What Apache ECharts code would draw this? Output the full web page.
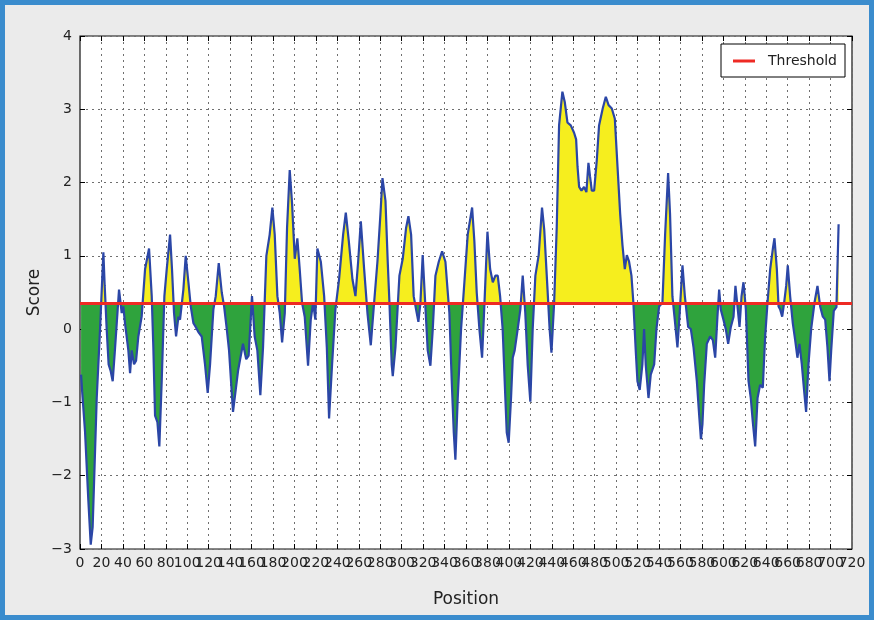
<!DOCTYPE html>
<html>
<head>
<meta charset="utf-8">
<script src="https://cdn.jsdelivr.net/npm/echarts@6/dist/echarts.min.js"></script>
<style>
  html, body { margin: 0; padding: 0; }
  .wrap { position: relative; width: 874px; height: 620px; background: #ebebeb; }
  .chart { position: absolute; left: 0; top: 0; width: 874px; height: 620px; }
  .frame { position: absolute; left: 0; top: 0; width: 874px; height: 620px; box-sizing: border-box;
           border: 5px solid #3a8ccd; pointer-events: none; }
</style>
</head>
<body>
<div class="wrap">
  <div class="chart" id="chart"></div>
  <div class="frame"></div>
</div>
<script>
  // values (position along the sequence, score)
  const positions = [
    1, 2, 4.7, 7.8, 10, 11.8, 15.6, 18.7, 21.8, 23, 24.9, 26.7, 28.6, 30.5, 32.5, 36.4, 38.9, 40.4, 42, 45.1,
    46.7, 48.2, 50.4, 52.3, 54.4, 57.5, 60.7, 64.4, 66.9, 68.4, 70, 72.2, 74, 76.2, 78.7, 80.9, 84, 85.8, 87.7, 89.6,
    91.8, 93.3, 96.4, 98.6, 101.1, 103.3, 105.8, 107.9, 110.4, 113.5, 116.6, 119.1, 121.3, 124.4, 126.6, 129.4, 132.2, 134.4, 136.9, 139,
    142.7, 147.4, 152, 155, 157.3, 160.4, 162.9, 165.4, 168.2, 170.7, 173.8, 176.9, 179.4, 181.6, 184.1, 186.3, 188.5, 191, 193.1, 195.6,
    197.8, 200.3, 202.7, 204.9, 207.1, 209.6, 212.7, 215.2, 217.4, 219.5, 221.4, 224.6, 227.7, 230.2, 232.3, 235.1, 238.2, 241.6, 245.4, 247.9,
    250.7, 254.1, 256.9, 259.4, 261.9, 265, 268.1, 271.2, 274.3, 277.4, 280.2, 282.1, 284.9, 287, 288.6, 290.7, 291.7, 294.2, 297.9, 301,
    304.1, 306.3, 308.8, 311.2, 313.4, 315.6, 317.5, 319.6, 322.1, 324.3, 326.8, 329, 331.5, 334.6, 337.7, 340.8, 343, 344.5, 346.7, 348.6,
    350.1, 352.3, 355.4, 358.5, 361.6, 365.7, 367.8, 370, 372.5, 375, 377.5, 380, 382.5, 385, 387.4, 389.6, 391.8, 394.2, 396.7, 398,
    399.8, 402, 403.6, 405.4, 408.2, 410.7, 412.9, 415.3, 417.5, 420, 422.2, 424.7, 427.8, 430.9, 433, 436, 438, 439.7, 442.2, 444.6,
    446.8, 449.9, 452.1, 454.6, 457.7, 460.8, 462.7, 464, 465.5, 467.7, 470.1, 472.3, 474.2, 475.7, 477.3, 479.5, 482, 484.1, 487.5, 490.4,
    492.9, 496, 498.8, 501.3, 503.8, 505.9, 508.1, 510, 512.1, 514.3, 516.1, 518.3, 519.9, 522, 524.5, 526.1, 527.6, 530.2, 532.3, 535.5,
    537.6, 540.1, 543.2, 545.7, 548.5, 550.3, 552.5, 554.7, 557.2, 559.3, 561.9, 564.1, 567.2, 569.7, 572.2, 575.3, 577.5, 579.1, 580.5, 582.1,
    584.6, 587.7, 590.2, 592.4, 594.5, 596.1, 597.6, 600.1, 602.3, 604.5, 607, 609.5, 611.3, 613.2, 615.1, 617, 618.8, 621, 623.5, 625.6,
    627.5, 629.7, 631.9, 634.3, 636.8, 639, 641.2, 643.7, 646.2, 647.7, 649.9, 651.5, 653, 654.9, 656.7, 658.6, 660.1, 662.3, 664.8, 667,
    669.1, 671, 673.2, 675.4, 677.2, 679.4, 681.9, 685, 687.8, 690.3, 692.8, 695, 697.1, 699, 700.6, 703, 705.5, 707.5
  ];
  const scores = [
    -0.62, -0.85, -1.4, -2.34, -2.94, -2.7, -0.94, 0, 1.05, 0.6, 0, -0.48, -0.57, -0.71, -0.3, 0.54, 0.22, 0.31, 0.08, -0.29,
    -0.6, -0.29, -0.48, -0.43, -0.1, 0.17, 0.82, 1.1, 0.45, -0.25, -1.18, -1.27, -1.6, -0.71, 0.45, 0.82, 1.29, 0.82, 0.22, -0.1,
    0.17, 0.13, 0.54, 1.0, 0.64, 0.31, 0.08, 0.03, -0.04, -0.1, -0.48, -0.87, -0.48, 0.27, 0.45, 0.9, 0.5, 0.31, 0, -0.29,
    -1.13, -0.57, -0.2, -0.41, -0.36, 0.45, -0.1, -0.29, -0.9, -0.25, 1.0, 1.29, 1.66, 1.29, 0.45, 0.22, -0.18, 0.22, 1.38, 2.17,
    1.71, 0.96, 1.24, 0.82, 0.36, 0.17, -0.5, 0.13, 0.36, 0.13, 1.1, 0.92, 0.45, -0.25, -1.22, -0.48, 0.27, 0.68, 1.29, 1.59,
    1.2, 0.68, 0.45, 0.92, 1.47, 0.82, 0.22, -0.22, 0.36, 0.92, 1.57, 2.06, 1.75, 0.92, 0.36, -0.48, -0.64, -0.25, 0.73, 0.96,
    1.38, 1.54, 1.29, 0.45, 0.27, 0.1, 0.36, 1.01, 0.31, -0.29, -0.5, 0, 0.73, 0.92, 1.06, 0.92, 0.5, 0.22, -0.71, -1.41,
    -1.78, -0.94, 0, 0.64, 1.29, 1.66, 1.2, 0.5, 0, -0.39, 0.45, 1.33, 0.82, 0.64, 0.73, 0.73, 0.45, 0, -0.94, -1.41,
    -1.55, -0.94, -0.39, -0.29, 0, 0.27, 0.73, 0.22, -0.48, -0.99, 0, 0.73, 1.01, 1.66, 1.35, 0.55, 0, -0.32, 0.36, 1.38,
    2.78, 3.24, 3.1, 2.82, 2.78, 2.68, 2.59, 2.22, 1.94, 1.89, 1.94, 1.87, 2.27, 2.08, 1.89, 1.89, 2.31, 2.78, 3.01, 3.17,
    3.06, 3.01, 2.87, 2.22, 1.57, 1.15, 0.82, 1.01, 0.92, 0.73, 0.36, -0.29, -0.71, -0.83, -0.48, 0, -0.48, -0.94, -0.62, -0.48,
    0, 0.31, 0.36, 1.29, 2.13, 1.57, 0.45, 0.13, -0.25, 0.22, 0.87, 0.45, 0.03, 0, -0.25, -0.71, -1.18, -1.5, -1.3, -0.76,
    -0.2, -0.1, -0.15, -0.39, 0.17, 0.54, 0.27, 0.13, 0, -0.2, 0.03, 0.17, 0.59, 0.31, 0.03, 0.45, 0.64, 0.27, -0.71, -0.94,
    -1.27, -1.6, -0.94, -0.76, -0.8, -0.1, 0.36, 0.82, 1.1, 1.24, 0.82, 0.31, 0.27, 0.17, 0.36, 0.59, 0.87, 0.45, 0.08, -0.15,
    -0.39, -0.2, -0.48, -0.85, -1.13, -0.48, 0, 0.36, 0.59, 0.31, 0.17, 0.13, -0.25, -0.71, -0.29, 0.25, 0.3, 1.43
  ];
  const threshold = 0.35;
  const xRange = [0, 720];
  const yRange = [-3, 4];

  const chart = echarts.init(document.getElementById('chart'));
  const scoreData = positions.map((p, i) => [p, scores[i]]);
  const font = 'DejaVu Sans';
  const labelFont = { fontFamily: font, fontSize: 14, color: '#222' };
  const gridLine = () => ({ show: true, lineStyle: { color: '#6f6f6f', type: [2, 4], width: 1 } });
  const ticksIn = () => ({ show: true, inside: true, length: 5, lineStyle: { color: '#000' } });

  const option = {
    animation: false,
    backgroundColor: 'transparent',
    grid: {
      left: 80, right: 22, top: 36, bottom: 71,
      show: true, backgroundColor: '#fff', borderColor: '#111', borderWidth: 1.2
    },
    legend: {
      data: [{ name: 'Threshold', icon: 'rect' }],
      right: 29, top: 44,
      itemWidth: 22, itemHeight: 3,
      padding: [10, 8, 9, 12],
      backgroundColor: '#fff', borderColor: '#000', borderWidth: 1, borderRadius: 0,
      textStyle: { fontFamily: font, fontSize: 14, color: '#222', padding: [0, 0, 0, 8] }
    },
    visualMap: {
      show: false, type: 'piecewise', seriesIndex: 0, dimension: 1,
      pieces: [
        { gte: -100, lte: threshold, color: '#2fa33d' },
        { gt: threshold, lte: 100, color: '#f6ee1e' }
      ]
    },
    xAxis: [
      {
        type: 'value', min: xRange[0], max: xRange[1], interval: 20,
        name: 'Position', nameLocation: 'middle', nameGap: 42,
        nameTextStyle: { fontFamily: font, fontSize: 17, color: '#222' },
        axisLine: { show: false, onZero: false },
        axisTick: ticksIn(),
        axisLabel: Object.assign({ margin: 7, showMaxLabel: false }, labelFont),
        splitLine: gridLine()
      },
      {
        type: 'value', position: 'top', min: xRange[0], max: xRange[1], interval: 20,
        axisLine: { show: false, onZero: false }, axisTick: ticksIn(),
        axisLabel: { show: false }, splitLine: { show: false }
      },
      {
        // carries only the last label (720), which the main axis would drop as overlapping
        type: 'value', position: 'bottom', min: xRange[0], max: xRange[1], interval: 20,
        axisLine: { show: false, onZero: false }, axisTick: { show: false },
        axisLabel: Object.assign({
          margin: 7, showMaxLabel: true,
          formatter: v => (v === xRange[1] ? String(v) : '')
        }, labelFont),
        splitLine: { show: false }
      }
    ],
    yAxis: [
      {
        type: 'value', min: yRange[0], max: yRange[1], interval: 1,
        name: 'Score', nameLocation: 'middle', nameGap: 37, nameMoveOverlap: false,
        nameTextStyle: { fontFamily: font, fontSize: 17, color: '#222' },
        axisLine: { show: false, onZero: false },
        axisTick: ticksIn(),
        axisLabel: Object.assign({
          margin: 8,
          formatter: v => String(v).replace('-', '\u2212')
        }, labelFont),
        splitLine: gridLine()
      },
      {
        type: 'value', position: 'right', min: yRange[0], max: yRange[1], interval: 1,
        axisLine: { show: false, onZero: false }, axisTick: ticksIn(),
        axisLabel: { show: false }, splitLine: { show: false }
      }
    ],
    series: [
      {
        name: 'fill', type: 'line', data: scoreData, symbol: 'none',
        lineStyle: { width: 0, opacity: 0 },
        areaStyle: { origin: threshold, opacity: 1 },
        silent: true, z: 2
      },
      {
        name: 'Score', type: 'line', data: scoreData, symbol: 'none',
        lineStyle: { width: 2.2, color: '#2b46a6' },
        itemStyle: { color: '#2b46a6' },
        z: 3
      },
      {
        name: 'Threshold', type: 'line',
        data: [[xRange[0], threshold], [xRange[1], threshold]],
        symbol: 'none',
        lineStyle: { width: 3, color: '#ee2a24' },
        itemStyle: { color: '#ee2a24' },
        z: 4
      }
    ]
  };
  chart.setOption(option);
  window.addEventListener('resize', function () {
    chart.resize();
  });
</script>
</body>
</html>
